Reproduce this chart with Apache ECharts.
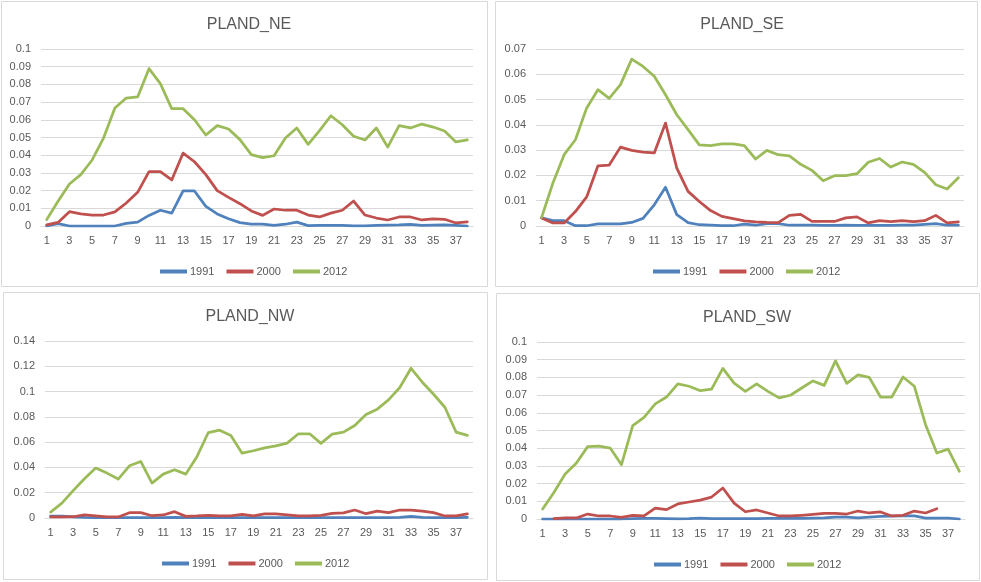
<!DOCTYPE html>
<html>
<head>
<meta charset="utf-8">
<script src="https://cdn.jsdelivr.net/npm/echarts@6/dist/echarts.min.js"></script>
<style>
html,body{margin:0;padding:0;background:#fff;}
#chart{width:981px;height:582px;}
</style>
</head>
<body>
<div id="chart"></div>
<script>
// ---- Data ----
var categories = [];
for (var c = 1; c <= 38; c++) categories.push(String(c));
var seriesNames = ['1991', '2000', '2012'];
var panelTitles = ['PLAND_NE', 'PLAND_SE', 'PLAND_NW', 'PLAND_SW'];

var ne1991 = [0,0.0013,0,0,0,0,0,0.0015,0.0022,0.006,0.0089,0.0073,0.0198,0.0198,0.0111,0.0068,0.0041,0.0019,0.0011,0.001,0.0004,0.001,0.0022,0.0002,0.0003,0.0004,0.0004,0.0001,0.0001,0.0004,0.0005,0.0006,0.0009,0.0004,0.0005,0.0006,0.0004,0];
var ne2000 = [0.0006,0.002,0.0081,0.0068,0.0062,0.0062,0.008,0.013,0.019,0.0307,0.0307,0.026,0.0412,0.0363,0.029,0.02,0.0162,0.0126,0.0085,0.006,0.0096,0.0089,0.0089,0.0062,0.0051,0.0073,0.0089,0.0141,0.0062,0.0045,0.0034,0.0051,0.0051,0.0034,0.004,0.0038,0.0017,0.0023];
var ne2012 = [0.0036,0.014,0.0237,0.029,0.0373,0.0497,0.0667,0.0723,0.0729,0.0889,0.0804,0.0663,0.0663,0.06,0.0514,0.0567,0.0548,0.0488,0.0403,0.0386,0.0397,0.0497,0.0554,0.0461,0.0539,0.0623,0.0572,0.0507,0.0486,0.0554,0.0446,0.0567,0.0554,0.0576,0.0559,0.0537,0.0475,0.0486];

var se1991 = [0.0032,0.0021,0.0021,0.0001,0.0001,0.0008,0.0008,0.0008,0.0014,0.003,0.0084,0.0153,0.0045,0.0013,0.0005,0.0003,0.0001,0.0001,0.0007,0.0003,0.0009,0.0009,0.0003,0.0003,0.0003,0.0002,0.0002,0.0003,0.0002,0.0002,0.0002,0.0002,0.0003,0.0003,0.0006,0.0009,0.0003,0.0003];
var se2000 = [0.0032,0.0012,0.0012,0.0057,0.0115,0.0238,0.0241,0.0312,0.0299,0.0292,0.0289,0.0407,0.0229,0.0137,0.0097,0.0061,0.0038,0.0029,0.002,0.0016,0.0014,0.0013,0.0042,0.0046,0.0018,0.0018,0.0018,0.0032,0.0036,0.0012,0.0021,0.0017,0.0021,0.0017,0.0021,0.0042,0.0012,0.0016];
var se2012 = [0.0034,0.017,0.0282,0.0341,0.0467,0.0539,0.0505,0.0559,0.066,0.0631,0.0592,0.0519,0.044,0.0381,0.0321,0.0318,0.0325,0.0325,0.0318,0.0265,0.0299,0.0282,0.0277,0.0244,0.022,0.0179,0.0199,0.0199,0.0207,0.0252,0.0267,0.0233,0.0253,0.0244,0.0212,0.0163,0.0146,0.0191];

var nw1991 = [0.0015,0.0015,0.0008,0.0004,0.0003,0.0003,0.0003,0.0003,0.0003,0.0003,0.0003,0.0005,0.0003,0.0003,0.0003,0.0003,0.0003,0.0003,0.0003,0.0003,0.0003,0.0003,0.0003,0.0003,0.0003,0.0003,0.0003,0.0003,0.0003,0.0003,0.0003,0.0005,0.0012,0.0005,0.0003,0.0003,0.0003,0.0005];
var nw2000 = [0.0008,0.0008,0.001,0.0024,0.0016,0.0008,0.0008,0.0042,0.0042,0.0018,0.0024,0.005,0.0013,0.0016,0.0021,0.0016,0.0016,0.0029,0.0016,0.0032,0.0032,0.0024,0.0016,0.0016,0.0021,0.0037,0.004,0.0063,0.0034,0.0055,0.0042,0.0063,0.0063,0.0055,0.0042,0.0016,0.0016,0.0032];
var nw2012 = [0.0047,0.0118,0.0216,0.031,0.0395,0.0355,0.0308,0.0413,0.0447,0.0276,0.0347,0.0382,0.0347,0.0487,0.0676,0.0695,0.0653,0.0513,0.0532,0.0555,0.0571,0.0592,0.0666,0.0666,0.059,0.0663,0.0679,0.0732,0.0818,0.0861,0.0934,0.1032,0.1184,0.1074,0.0979,0.0876,0.0679,0.0653];

var sw1991 = [0,0,0,0,0,0,0,0,0.0002,0.0003,0.0003,0.0002,0.0001,0.0002,0.0005,0.0002,0.0002,0.0002,0.0002,0.0002,0.0003,0.0004,0.0004,0.0003,0.0005,0.0006,0.001,0.001,0.0006,0.001,0.0015,0.0016,0.0018,0.0018,0.0005,0.0005,0.0005,0];
var sw2000 = [null,0.0002,0.0006,0.0006,0.0028,0.0017,0.0017,0.0009,0.0021,0.0017,0.0062,0.0053,0.0085,0.0096,0.0107,0.0124,0.0175,0.009,0.0041,0.0051,0.0034,0.0017,0.0017,0.0021,0.0026,0.0032,0.0032,0.0028,0.0045,0.0034,0.004,0.0017,0.0021,0.0045,0.0034,0.0058,null,null];
var sw2012 = [0.0056,0.015,0.0254,0.0316,0.0409,0.0412,0.0401,0.0307,0.0527,0.0574,0.065,0.0689,0.0763,0.075,0.0725,0.0734,0.0851,0.0768,0.0721,0.0763,0.0721,0.0684,0.0699,0.074,0.078,0.0755,0.0893,0.0766,0.0814,0.08,0.0689,0.0689,0.0802,0.075,0.0533,0.0373,0.0395,0.0269];

var panelData = [
  [ne1991, ne2000, ne2012],
  [se1991, se2000, se2012],
  [nw1991, nw2000, nw2012],
  [sw1991, sw2000, sw2012]
];
var yMax = [0.1, 0.07, 0.14, 0.1];
var yStep = [0.01, 0.01, 0.02, 0.01];

// ---- Layout / style ----
var colors = ['#4F81BD', '#C0504D', '#9BBB59'];
var grids = [
  {left: 41, top: 49, width: 432, height: 177},
  {left: 536, top: 49, width: 428, height: 177},
  {left: 45, top: 341, width: 428, height: 177},
  {left: 537, top: 342, width: 428, height: 177}
];
var panels = [
  {x: 1.5, y: 1.5, w: 486, h: 285},
  {x: 495.5, y: 1.5, w: 482, h: 285},
  {x: 3.5, y: 292.5, w: 484, h: 287},
  {x: 496.5, y: 293.5, w: 483, h: 287}
];
var titlePos = [{x: 244, y: 12}, {x: 737, y: 12}, {x: 245, y: 304}, {x: 742, y: 305}];
var legendPos = [{x: 155, y: 261}, {x: 648, y: 261}, {x: 157, y: 553}, {x: 649, y: 554}];

var font = 'Liberation Sans, Arial, sans-serif';
var textColor = '#595959';

var option = {
  animation: false,
  backgroundColor: '#ffffff',
  color: colors,
  title: [], legend: [], grid: [], xAxis: [], yAxis: [], series: [],
  graphic: []
};

for (var p = 0; p < 4; p++) {
  option.graphic.push({
    type: 'rect', silent: true,
    shape: {x: panels[p].x, y: panels[p].y, width: panels[p].w, height: panels[p].h},
    style: {fill: 'none', stroke: '#D9D9D9', lineWidth: 1}
  });
  option.title.push({
    text: panelTitles[p], left: titlePos[p].x, top: titlePos[p].y, textAlign: 'center',
    textStyle: {fontFamily: font, fontSize: 16, fontWeight: 'normal', color: textColor}
  });
  option.legend.push({
    data: seriesNames, left: legendPos[p].x, top: legendPos[p].y,
    icon: 'rect', itemWidth: 27, itemHeight: 4, itemGap: 12,
    textStyle: {fontFamily: font, fontSize: 11, color: textColor, padding: [0, 0, 0, -2]}
  });
  option.grid.push(Object.assign({containLabel: false}, grids[p]));
  option.xAxis.push({
    type: 'category', gridIndex: p, data: categories, boundaryGap: true,
    axisLine: {show: true, lineStyle: {color: '#D9D9D9'}},
    axisTick: {show: false},
    axisLabel: {interval: 1, color: textColor, fontFamily: font, fontSize: 11, margin: 9},
    splitLine: {show: false}
  });
  option.yAxis.push({
    type: 'value', gridIndex: p, min: 0, max: yMax[p], interval: yStep[p],
    axisLine: {show: false}, axisTick: {show: false},
    axisLabel: {color: textColor, fontFamily: font, fontSize: 11, margin: 10,
      formatter: function (v) { return String(+v.toFixed(4)); }},
    splitLine: {lineStyle: {color: '#D9D9D9', width: 1}}
  });
  for (var s = 0; s < 3; s++) {
    option.series.push({
      name: seriesNames[s], type: 'line', xAxisIndex: p, yAxisIndex: p,
      data: panelData[p][s], symbol: 'none', showSymbol: false,
      connectNulls: false,
      lineStyle: {width: 2.75, color: colors[s], join: 'round', cap: 'round'},
      itemStyle: {color: colors[s]}
    });
  }
}

var chart = echarts.init(document.getElementById('chart'), null, {renderer: 'canvas'});
chart.setOption(option);
</script>
</body>
</html>
